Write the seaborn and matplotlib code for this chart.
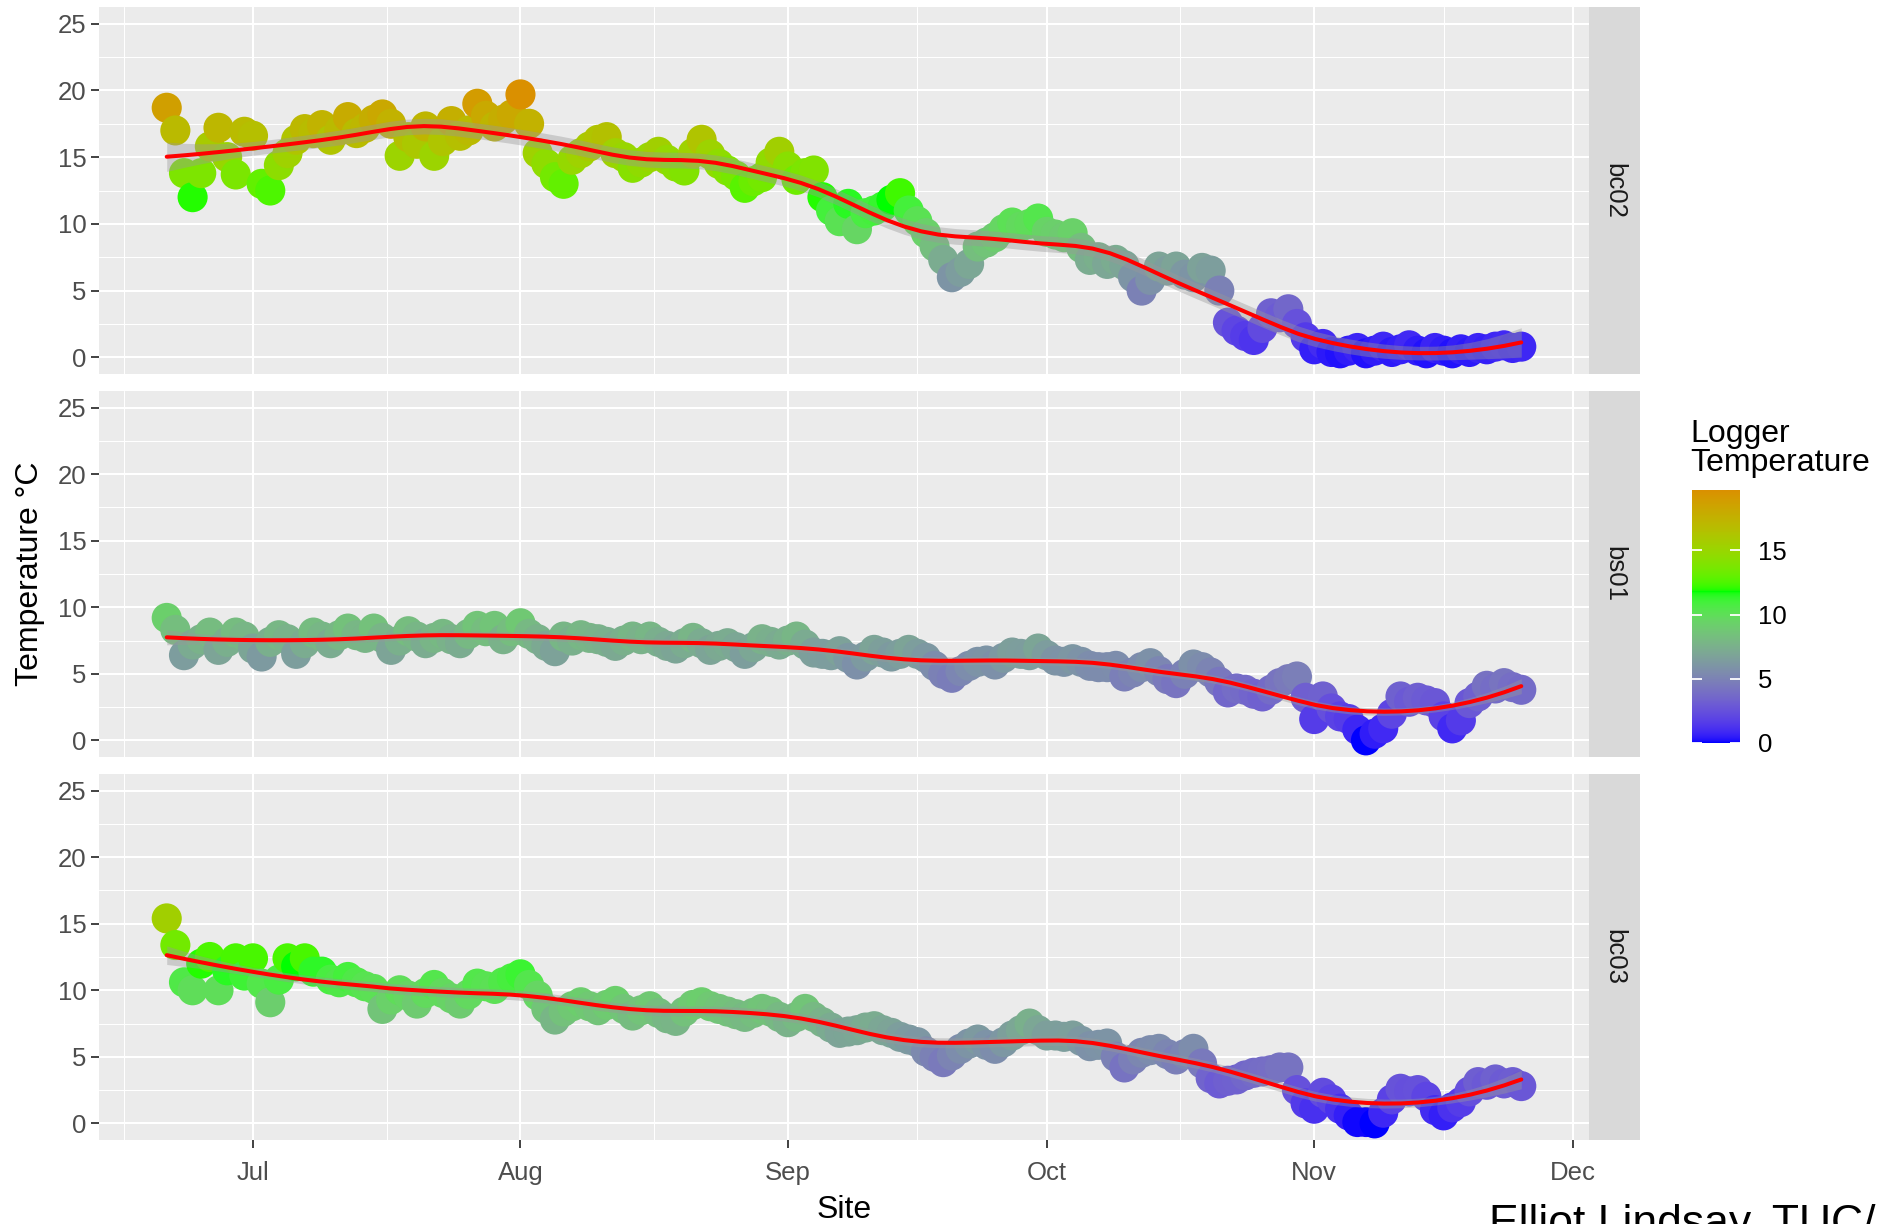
import numpy as np
import pandas as pd
import matplotlib
matplotlib.use("Agg")
import matplotlib.pyplot as plt
import matplotlib.dates as mdates
from matplotlib.colors import ListedColormap, Normalize
from matplotlib.cm import ScalarMappable
from matplotlib.ticker import FixedLocator
import seaborn as sns

# ---------------------------------------------------------------- data
start_date = "2019-06-21"
sites = ["bc02", "bs01", "bc03"]

bc02_temp = [
    18.7, 17.0, 13.8, 12.0, 13.8, 15.8, 17.2, 15.0, 13.7, 16.9,
    16.6, 13.0, 12.5, 14.4, 15.3, 16.3, 17.1, 16.8, 17.4, 16.3, 17.0, 18.0, 16.8, 17.2, 17.8, 18.2,
    17.5, 15.1, 16.5, 16.0, 17.3, 15.1, 16.2, 17.7, 16.6, 17.0, 19.0, 18.1, 17.3, 17.8, 18.2,
    19.7, 17.5, 15.3, 14.5, 13.5, 13.0, 14.8, 15.3, 15.8, 16.3, 16.5, 15.3, 15.0, 14.2, 14.6, 15.0,
    15.4, 14.8, 14.3, 14.0, 15.3, 16.3, 15.2, 14.5, 14.0, 13.6, 12.7, 13.2, 13.5, 14.6, 15.4,
    14.3, 13.3, 13.8, 14.0, 12.0, 11.0, 10.2, 11.5, 9.6, 10.8, 11.0, 11.3, 11.8, 12.3, 11.0,
    10.2, 9.3, 8.3, 7.3, 6.0, 6.4, 7.0, 8.3, 8.6, 9.0, 9.6, 10.1, 9.8, 10.0, 10.4,
    9.4, 9.2, 9.0, 9.3, 8.2, 7.3, 7.5, 7.0, 7.3, 6.9, 6.0, 5.0, 5.8, 6.8, 6.5, 6.8,
    6.2, 6.0, 6.7, 6.5, 5.0, 2.6, 2.0, 1.6, 1.3, 2.2, 3.3, 3.0, 3.6, 2.5, 1.5,
    0.6, 1.0, 0.4, 0.3, 0.5, 0.7, 0.3, 0.5, 0.8, 0.4, 0.6, 0.9, 0.5, 0.3, 0.7,
    0.5, 0.3, 0.6, 0.4, 0.7, 0.6, 0.8, 0.9, 0.7, 0.8,
]

bs01_temp = [
    9.2, 8.3, 6.4, 7.2, 7.6, 8.1, 6.8, 7.4, 8.1, 7.8,
    6.9, 6.3, 7.4, 7.9, 7.6, 6.5, 7.3, 8.1, 7.8, 7.3, 7.9, 8.4, 7.9, 7.7, 8.4, 7.7,
    6.8, 7.5, 8.2, 7.8, 7.3, 7.7, 8.0, 7.6, 7.3, 8.0, 8.6, 8.2, 8.6, 7.6, 8.2,
    8.8, 8.0, 7.6, 7.1, 6.7, 7.8, 7.5, 7.9, 7.7, 7.6, 7.4, 7.1, 7.5, 7.8, 7.6, 7.8,
    7.4, 7.1, 6.9, 7.3, 7.7, 7.3, 6.8, 7.1, 7.3, 7.0, 6.5, 7.0, 7.6, 7.4, 7.2,
    7.5, 7.8, 7.2, 6.6, 6.5, 6.4, 6.7, 6.2, 5.7, 6.3, 6.8, 6.6, 6.3, 6.5, 6.8,
    6.5, 6.2, 5.6, 5.0, 4.7, 5.2, 5.6, 5.9, 6.0, 5.7, 6.2, 6.6, 6.5, 6.4, 6.9,
    6.4, 6.0, 5.9, 6.1, 5.9, 5.6, 5.5, 5.5, 5.6, 4.8, 5.1, 5.5, 5.8, 5.2, 4.6, 4.3,
    5.0, 5.7, 5.5, 5.1, 4.4, 3.6, 3.9, 3.8, 3.5, 3.3, 3.8, 4.3, 4.6, 4.8, 3.2,
    1.6, 3.3, 2.4, 1.8, 1.6, 0.8, 0.0, 0.5, 0.9, 2.0, 3.3, 2.9, 3.2, 3.0, 2.8,
    1.8, 0.9, 1.5, 2.8, 3.3, 4.1, 3.9, 4.3, 4.0, 3.8,
]

bc03_temp = [
    15.4, 13.4, 10.6, 10.0, 12.0, 12.5, 10.0, 11.5, 12.4, 11.1,
    12.4, 10.5, 9.1, 10.8, 12.4, 11.8, 12.4, 11.4, 11.4, 10.8, 10.6, 11.0, 10.6, 10.3, 10.1, 8.6,
    9.3, 10.0, 9.6, 9.0, 9.8, 10.4, 9.8, 9.4, 9.0, 9.7, 10.5, 10.3, 10.1, 10.6, 10.9,
    11.2, 10.4, 9.6, 8.6, 7.8, 8.4, 8.8, 9.1, 8.8, 8.5, 8.9, 9.2, 8.6, 8.1, 8.5, 8.8,
    8.3, 7.9, 7.7, 8.4, 8.9, 9.1, 8.8, 8.6, 8.4, 8.2, 8.0, 8.3, 8.6, 8.4, 8.0,
    7.6, 8.0, 8.6, 8.0, 7.6, 7.2, 6.8, 6.9, 7.0, 7.2, 7.3, 7.0, 6.8, 6.5, 6.3,
    6.1, 5.4, 5.0, 4.6, 5.1, 5.6, 6.0, 6.3, 5.9, 5.6, 6.1, 6.6, 7.0, 7.5, 7.0,
    6.6, 6.6, 6.5, 6.6, 6.2, 5.8, 5.9, 6.0, 5.0, 4.2, 4.8, 5.3, 5.5, 5.6, 5.2, 4.8,
    5.2, 5.6, 4.5, 3.4, 3.0, 3.2, 3.3, 3.6, 3.8, 3.9, 4.0, 4.2, 4.2, 2.5, 1.5,
    1.1, 2.3, 1.8, 1.1, 0.6, 0.1, 0.1, 0.0, 0.8, 1.8, 2.6, 2.4, 2.5, 2.0, 1.0,
    0.6, 1.2, 1.6, 2.4, 3.1, 2.9, 3.3, 3.0, 3.1, 2.8,
]

temps = {"bc02": bc02_temp, "bs01": bs01_temp, "bc03": bc03_temp}

frames = []
for s in sites:
    vals = temps[s]
    frames.append(pd.DataFrame({
        "date": pd.date_range(start_date, periods=len(vals), freq="D"),
        "temp": vals,
        "site": s,
    }))
df = pd.concat(frames, ignore_index=True)
df["dnum"] = mdates.date2num(df["date"])

# ---------------------------------------------------------------- colour ramp (CIELAB interpolation)
def _srgb_to_lab(rgb):
    rgb = np.asarray(rgb, float)
    c = np.where(rgb <= 0.04045, rgb / 12.92, ((rgb + 0.055) / 1.055) ** 2.4)
    M = np.array([[0.4124, 0.3576, 0.1805], [0.2126, 0.7152, 0.0722], [0.0193, 0.1192, 0.9505]])
    xyz = c @ M.T / np.array([0.95047, 1.0, 1.08883])
    d = 6 / 29
    f = np.where(xyz > d ** 3, np.cbrt(xyz), xyz / (3 * d * d) + 4 / 29)
    return np.stack([116 * f[..., 1] - 16, 500 * (f[..., 0] - f[..., 1]), 200 * (f[..., 1] - f[..., 2])], -1)


def _lab_to_srgb(lab):
    L, a, b = lab[..., 0], lab[..., 1], lab[..., 2]
    fy_ = (L + 16) / 116
    fx_ = fy_ + a / 500
    fz_ = fy_ - b / 200
    d = 6 / 29
    f = np.stack([fx_, fy_, fz_], -1)
    xyz = np.where(f > d, f ** 3, 3 * d * d * (f - 4 / 29)) * np.array([0.95047, 1.0, 1.08883])
    Minv = np.array([[3.2406, -1.5372, -0.4986], [-0.9689, 1.8758, 0.0415], [0.0557, -0.2040, 1.0570]])
    c = np.clip(xyz @ Minv.T, 0, 1)
    return np.clip(np.where(c <= 0.0031308, 12.92 * c, 1.055 * c ** (1 / 2.4) - 0.055), 0, 1)


ramp_pos = [0.0, 0.6, 1.0]
ramp_rgb = [(0.0, 0.0, 1.0), (0.0, 1.0, 0.0), (0.855, 0.565, 0.0)]
ramp_lab = _srgb_to_lab(np.array(ramp_rgb))
tt = np.linspace(0, 1, 256)
lab_samples = np.stack([np.interp(tt, ramp_pos, ramp_lab[:, k]) for k in range(3)], -1)
temp_cmap = ListedColormap(_lab_to_srgb(lab_samples))
norm = Normalize(vmin=df["temp"].min(), vmax=df["temp"].max())

# ---------------------------------------------------------------- loess smoother
def loess(x, y, grid, span=0.33):
    n = len(x)
    q = max(int(np.floor(n * span)), 4)

    def weights_row(x0):
        d = np.abs(x - x0)
        h = np.sort(d)[q - 1]
        w = np.clip(1 - (d / h) ** 3, 0, None) ** 3
        X = np.vstack([np.ones(n), x - x0, (x - x0) ** 2]).T
        A = X.T @ (w[:, None] * X)
        return np.linalg.solve(A, (X * w[:, None]).T)[0]

    Lmat = np.array([weights_row(v) for v in x])
    resid = y - Lmat @ y
    sigma = np.sqrt(np.sum(resid ** 2) / (n - np.trace(Lmat)))
    rows = np.array([weights_row(g) for g in grid])
    return rows @ y, sigma * np.sqrt(np.sum(rows ** 2, axis=1))

# ---------------------------------------------------------------- figure
W, H = 1888, 1224
sns.set_theme(style="darkgrid")
plt.rcParams["font.family"] = ["Liberation Sans", "DejaVu Sans"]
fig = plt.figure(figsize=(W / 100, H / 100), dpi=100)


def fx(px):
    return px / W


def fy(py):
    return 1 - py / H


panel_left, panel_right, strip_right = 99, 1589, 1640
panel_rows = [(7, 374), (391, 757), (774, 1140)]

x0, x1 = df["dnum"].min(), df["dnum"].max()
xpad = 0.05 * (x1 - x0)
xlim = (x0 - xpad, x1 + xpad)
ylim = (-1.25, 26.25)

month_starts = mdates.date2num(pd.date_range("2019-05-01", "2020-01-01", freq="MS"))
month_mids = (month_starts[:-1] + month_starts[1:]) / 2

axes = []
for i, (site, (top, bot)) in enumerate(zip(sites, panel_rows)):
    ax = fig.add_axes([fx(panel_left), fy(bot), fx(panel_right - panel_left), (bot - top) / H])
    ax.set_facecolor("#EBEBEB")
    for sp in ax.spines.values():
        sp.set_visible(False)

    sub = df[df["site"] == site]
    sns.scatterplot(data=sub, x="dnum", y="temp", hue="temp", palette=temp_cmap, hue_norm=norm,
                    s=470, linewidth=0, alpha=1.0, legend=False, ax=ax, zorder=3)

    grid = np.linspace(sub["dnum"].min(), sub["dnum"].max(), 80)
    fit, se = loess(sub["dnum"].values - x0, sub["temp"].values, grid - x0, span=0.33)
    ax.fill_between(grid, fit - 1.97 * se, fit + 1.97 * se, color="#999999", alpha=0.4,
                    linewidth=0, zorder=4)
    sns.lineplot(x=grid, y=fit, color="#FF0000", linewidth=2.9, ax=ax, zorder=5)

    ax.set_xlim(*xlim)
    ax.set_ylim(*ylim)
    ax.yaxis.set_major_locator(FixedLocator([0, 5, 10, 15, 20, 25]))
    ax.yaxis.set_minor_locator(FixedLocator([2.5, 7.5, 12.5, 17.5, 22.5]))
    ax.xaxis.set_major_locator(FixedLocator(month_starts))
    ax.xaxis.set_minor_locator(FixedLocator(month_mids))
    ax.xaxis.set_major_formatter(mdates.DateFormatter("%b"))
    ax.grid(which="major", color="white", linewidth=1.45)
    ax.grid(which="minor", color="white", linewidth=0.75)
    ax.set_axisbelow(True)
    ax.set_xlabel("")
    ax.set_ylabel("")
    ax.tick_params(axis="y", which="major", length=6, width=1.3, color="#333333",
                   labelsize=18.5, labelcolor="#4D4D4D", pad=3, left=True)
    ax.tick_params(which="minor", length=0)
    if i < len(sites) - 1:
        ax.tick_params(axis="x", which="major", length=0, labelbottom=False)
    else:
        ax.tick_params(axis="x", which="major", length=6, width=1.3, color="#333333",
                       labelsize=18.5, labelcolor="#4D4D4D", pad=9, bottom=True)

    # facet strip on the right
    sax = fig.add_axes([fx(panel_right), fy(bot), fx(strip_right - panel_right), (bot - top) / H])
    sax.set_facecolor("#D9D9D9")
    sax.grid(False)
    sax.set_xticks([])
    sax.set_yticks([])
    for sp in sax.spines.values():
        sp.set_visible(False)
    sax.text(0.5, 0.5, site, rotation=270, ha="center", va="center", fontsize=18.5,
             color="#1A1A1A", transform=sax.transAxes)
    axes.append(ax)

# axis titles
fig.text(fx(30), fy((panel_rows[0][0] + panel_rows[-1][1]) / 2), "Temperature °C", rotation=90,
         ha="center", va="center", fontsize=23, color="black")
fig.text(fx((panel_left + panel_right) / 2), fy(1218), "Site", ha="center", va="baseline",
         fontsize=23, color="black")

# colour bar legend
cax = fig.add_axes([fx(1692), fy(743), fx(1740 - 1692), (743 - 490) / H])
cb = fig.colorbar(ScalarMappable(norm=norm, cmap=temp_cmap), cax=cax)
cb.outline.set_visible(False)
cb.set_ticks([0, 5, 10, 15])
cb.set_ticklabels(["0", "5", "10", "15"])
cax.tick_params(length=0, labelsize=18.5, labelcolor="black", pad=13)
for v in [0, 5, 10, 15]:
    cax.hlines(v, 0.0, 0.2, color="white", linewidth=1.3)
    cax.hlines(v, 0.8, 1.0, color="white", linewidth=1.3)
fig.text(fx(1690), fy(478), "Logger\nTemperature", ha="left", va="bottom", fontsize=23,
         linespacing=0.95, color="black")

# author credit, running off the lower edge
fig.text(fx(1489), fy(1236), "Elliot Lindsay, TUC/", ha="left", va="baseline", fontsize=32,
         color="black")

fig.savefig("out.png", dpi=100)
